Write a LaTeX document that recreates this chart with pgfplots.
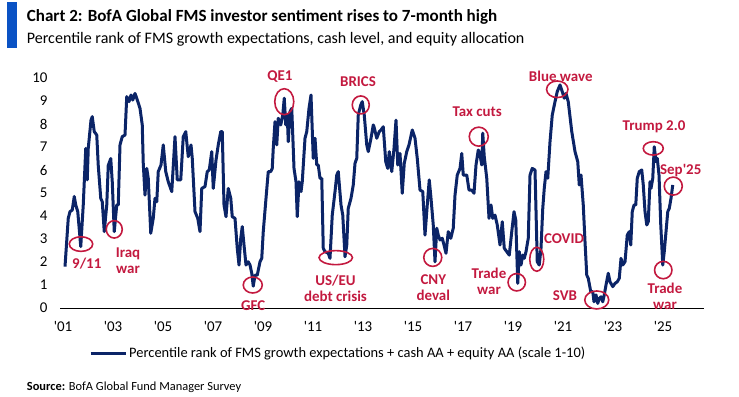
\documentclass[border=0pt]{standalone}
\usepackage{fontspec}
\setmainfont{Carlito}
\usepackage{pgfplots}
\pgfplotsset{compat=1.18}
\definecolor{navy}{HTML}{0B2467}
\definecolor{annred}{HTML}{C3193F}
\definecolor{barblue}{HTML}{0A52C4}
\newcommand{\q}{\textquotesingle}
\begin{document}
\begin{tikzpicture}[x=1bp,y=1bp]
\useasboundingbox (0,0) rectangle (739,-396);
\fill[barblue] (7.3,-1.7) rectangle (16.7,-48.3);
\node[anchor=base west,inner sep=0pt,font=\fontsize{17.1}{19}\selectfont\bfseries] at (26.7,-21.7) {Chart 2: BofA Global FMS investor sentiment rises to 7-month high};
\node[anchor=base west,inner sep=0pt,font=\fontsize{16.1}{18}\selectfont] at (26.7,-43.5) {Percentile rank of FMS growth expectations, cash level, and equity allocation};
\node[anchor=base west,inner sep=0pt,font=\fontsize{12.45}{14}\selectfont] at (26.7,-390.7) {\textbf{Source:} BofA Global Fund Manager Survey};
\begin{axis}[
  at={(60bp,-308bp)}, anchor=south west, scale only axis,
  width=644bp, height=230bp,
  xmin=2000.88, xmax=2026.64, ymin=0, ymax=10,
  clip=false,
  axis x line*=bottom, axis y line*=left,
  y axis line style={draw=none},
  x axis line style={black, line width=0.8bp},
  major tick length=0pt,
  xtick={2001,2003,2005,2007,2009,2011,2013,2015,2017,2019,2021,2023,2025},
  xticklabels={\q01,\q03,\q05,\q07,\q09,\q11,\q13,\q15,\q17,\q19,\q21,\q23,\q25},
  ytick={0,1,2,3,4,5,6,7,8,9,10},
  /pgf/number format/assume math mode=true,
  tick label style={font=\fontsize{15}{18}\selectfont, text=black},
  xticklabel style={yshift=-10bp},
  yticklabel style={xshift=-9bp},
  legend style={at={(0.432,-0.196)}, anchor=center, draw=none, fill=none,
    font=\fontsize{14.5}{17}\selectfont, inner sep=0pt,
    /tikz/every even column/.append style={column sep=0pt}},
  legend cell align=left,
  legend image code/.code={\draw[navy, line width=3bp] (0bp,0bp) -- (35bp,0bp);},
]
\addplot[navy, line width=3bp, line join=round] coordinates {
(2001.08,1.80)(2001.21,3.9)(2001.28,4.19)(2001.37,4.26)(2001.45,4.85)(2001.51,4.48)(2001.59,4.19)(2001.71,2.67)(2001.81,4.48)(2001.91,6.94)(2001.97,5.57)(2002.01,6.94)(2002.12,8.17)(2002.17,8.32)(2002.25,7.67)(2002.35,7.52)(2002.41,6.2)(2002.51,4.77)(2002.57,4.62)(2002.65,3.32)(2002.75,4.48)(2002.81,6.2)(2002.91,6.5)(2002.97,5.49)(2003.05,3.32)(2003.15,4.48)(2003.21,4.48)(2003.28,7.09)(2003.37,7.45)(2003.48,7.52)(2003.55,9.19)(2003.64,8.97)(2003.72,9.26)(2003.79,9.04)(2003.88,9.33)(2003.95,9.12)(2004.08,8.68)(2004.17,7.96)(2004.21,6.29)(2004.28,4.91)(2004.35,6.07)(2004.41,5.64)(2004.51,3.25)(2004.61,3.9)(2004.68,4.77)(2004.75,4.62)(2004.81,5.93)(2004.92,6.22)(2005.01,7.09)
(2005.11,5.93)(2005.21,5.49)(2005.35,5.06)(2005.48,7.45)(2005.57,5.57)(2005.71,5.57)(2005.81,7.45)(2005.91,7.67)(2006.01,6.58)(2006.12,7.09)(2006.17,6.51)(2006.28,4.19)(2006.39,3.9)(2006.48,3.32)(2006.55,5.2)(2006.68,5.28)(2006.77,5.93)(2006.85,6.0)(2006.95,6.8)(2007.01,5.2)(2007.12,6.43)(2007.21,7.09)(2007.31,7.67)(2007.37,7.67)(2007.44,4.48)(2007.52,3.97)(2007.61,5.2)(2007.71,4.77)(2007.77,3.97)(2007.88,3.9)(2007.97,2.6)(2008.04,1.87)(2008.11,3.03)(2008.17,3.54)(2008.24,2.74)(2008.32,1.87)(2008.41,2.01)(2008.48,1.87)(2008.55,1.51)(2008.61,0.95)(2008.68,1.43)(2008.77,1.43)(2008.88,2.01)(2008.95,2.16)(2009.01,3.32)(2009.12,4.77)(2009.21,5.93)
(2009.31,5.93)(2009.37,6.07)(2009.41,6.94)(2009.48,8.1)(2009.55,7.09)(2009.61,8.25)(2009.71,7.96)(2009.79,8.39)(2009.85,9.12)(2009.91,7.96)(2009.97,8.39)(2010.01,7.23)(2010.08,8.54)(2010.15,8.68)(2010.24,6.07)(2010.32,5.49)(2010.37,3.97)(2010.44,5.49)(2010.52,5.06)(2010.57,5.49)(2010.68,7.38)(2010.75,7.67)(2010.84,8.68)(2010.92,9.26)(2011.01,6.51)(2011.08,7.38)(2011.15,6.22)(2011.21,6.22)(2011.28,5.64)(2011.35,5.64)(2011.41,2.6)(2011.48,2.45)(2011.61,2.38)(2011.68,2.16)(2011.77,4.04)(2011.88,5.06)(2011.95,5.78)(2012.01,5.93)(2012.12,4.48)(2012.19,4.04)(2012.28,2.23)(2012.35,2.74)(2012.41,4.33)(2012.52,4.77)(2012.61,5.35)(2012.68,6.29)(2012.75,6.51)(2012.81,8.39)(2012.91,8.83)(2012.97,8.97)(2013.05,8.39)(2013.15,7.09)(2013.21,6.8)(2013.32,7.38)(2013.41,7.96)
(2013.44,7.88)(2013.55,7.38)(2013.65,7.67)(2013.72,7.74)(2013.81,7.88)(2013.91,6.36)(2013.99,6.07)(2014.05,6.8)(2014.15,5.93)(2014.24,6.94)(2014.32,8.17)(2014.39,6.22)(2014.48,6.72)(2014.57,4.99)(2014.65,6.29)(2014.75,6.8)(2014.84,7.09)(2014.97,7.74)(2015.08,7.38)(2015.17,6.51)(2015.28,5.13)(2015.39,5.06)(2015.48,3.17)(2015.57,4.48)(2015.65,5.57)(2015.72,4.77)(2015.81,3.61)(2015.88,2.01)(2015.95,3.47)(2016.01,3.17)(2016.08,2.96)(2016.17,3.03)(2016.24,2.74)(2016.32,2.38)(2016.41,3.32)(2016.51,3.03)(2016.61,3.47)(2016.68,4.91)(2016.77,5.78)(2016.88,6.07)(2016.95,6.72)(2017.01,5.78)(2017.15,5.78)(2017.24,5.13)(2017.35,5.13)(2017.44,4.99)(2017.52,6.22)(2017.61,6.87)
(2017.68,6.65)(2017.75,6.22)(2017.79,7.6)(2017.85,6.58)(2017.95,5.64)(2018.04,3.9)(2018.12,4.48)(2018.19,3.9)(2018.28,4.04)(2018.37,3.61)(2018.48,2.74)(2018.57,3.75)(2018.65,2.6)(2018.75,2.45)(2018.85,2.3)(2018.95,3.32)(2019.04,4.19)(2019.11,3.83)(2019.19,1.07)(2019.25,2.45)(2019.32,1.87)(2019.39,2.3)(2019.45,2.16)(2019.52,2.45)(2019.61,3.03)(2019.68,5.78)(2019.77,6.07)(2019.88,6.0)(2019.97,2.01)(2020.05,1.87)(2020.12,2.6)(2020.19,4.33)(2020.25,5.2)(2020.32,5.93)(2020.39,5.64)(2020.48,7.23)(2020.57,8.39)(2020.68,8.97)(2020.77,9.41)(2020.88,9.7)(2020.97,9.41)(2021.05,9.12)(2021.12,9.33)(2021.21,8.97)(2021.35,7.67)(2021.48,6.8)(2021.59,6.36)(2021.65,5.35)(2021.72,5.78)(2021.81,4.48)
(2021.88,2.88)(2021.95,1.43)(2022.01,1.29)(2022.11,0.71)(2022.19,0.71)(2022.24,0.27)(2022.32,0.57)(2022.39,0.2)(2022.45,0.42)(2022.52,0.49)(2022.59,0.27)(2022.65,0.57)(2022.72,1.0)(2022.81,1.51)(2022.88,1.14)(2022.99,0.93)(2023.08,1.07)(2023.17,1.14)(2023.25,1.29)(2023.32,2.16)(2023.39,1.87)(2023.48,2.01)(2023.57,3.17)(2023.65,3.32)(2023.71,2.74)(2023.77,4.19)(2023.84,4.48)(2023.91,4.48)(2023.97,5.64)(2024.05,5.93)(2024.15,6.0)(2024.21,5.35)(2024.28,4.19)(2024.35,3.61)(2024.41,3.75)(2024.48,5.49)(2024.52,5.2)(2024.59,5.64)(2024.65,7.01)(2024.72,6.36)(2024.77,6.51)(2024.84,5.78)(2024.91,3.61)(2024.99,1.87)(2025.05,2.45)(2025.12,3.32)(2025.19,4.19)(2025.25,4.33)(2025.32,4.77)(2025.39,5.35)
};
\addlegendentry{Percentile rank of FMS growth expectations + cash AA + equity AA (scale 1-10)}
\begin{scope}[annred, line width=1.6bp]
\draw (axis cs:2001.72,2.78) ellipse [x radius=11.7bp, y radius=7.3bp];
\draw (axis cs:2003.05,3.42) ellipse [x radius=8bp, y radius=8.7bp];
\draw (axis cs:2008.59,1.0) ellipse [x radius=9.5bp, y radius=8bp];
\draw (axis cs:2009.85,8.97) ellipse [x radius=9.5bp, y radius=13bp];
\draw (axis cs:2012.91,8.83) ellipse [x radius=8.5bp, y radius=9bp];
\draw (axis cs:2011.91,2.19) ellipse [x radius=16.7bp, y radius=7bp];
\draw (axis cs:2015.79,2.2) ellipse [x radius=9bp, y radius=9bp];
\draw (axis cs:2017.63,7.45) ellipse [x radius=9.5bp, y radius=9.5bp];
\draw (axis cs:2019.15,1.12) ellipse [x radius=8.7bp, y radius=8.7bp];
\draw (axis cs:2019.95,2.12) ellipse [x radius=7bp, y radius=12bp];
\draw (axis cs:2020.77,9.51) ellipse [x radius=10.7bp, y radius=8.3bp];
\draw (axis cs:2022.35,0.35) ellipse [x radius=12bp, y radius=9bp];
\draw (axis cs:2024.61,6.94) ellipse [x radius=10bp, y radius=6.7bp];
\draw (axis cs:2025.41,5.3) ellipse [x radius=9bp, y radius=9bp];
\draw (axis cs:2025.01,1.65) ellipse [x radius=8.7bp, y radius=8.7bp];
\end{scope}
\begin{scope}[every node/.style={text=annred, font=\fontsize{15}{16}\selectfont\bfseries, align=center, inner sep=0pt}]
\node at (axis cs:2001.95,1.91) {9/11};
\node at (axis cs:2003.6,2.04) {Iraq\\war};
\node at (axis cs:2008.61,0.09) {GFC};
\node at (axis cs:2009.68,10.06) {QE1};
\node at (axis cs:2012.8,9.83) {BRICS};
\node at (axis cs:2011.9,0.86) {US/EU\\debt crisis};
\node at (axis cs:2015.81,0.9) {CNY\\deval};
\node at (axis cs:2017.57,8.53) {Tax cuts};
\node at (axis cs:2018.04,1.17) {Trade\\war};
\node at (axis cs:2021.04,3.0) {COVID};
\node at (axis cs:2020.91,10.06) {Blue wave};
\node at (axis cs:2021.08,0.55) {SVB};
\node at (axis cs:2024.64,7.86) {Trump 2.0};
\node at (axis cs:2025.71,5.96) {Sep\q25};
\node at (axis cs:2025.08,0.52) {Trade\\war};
\end{scope}
\end{axis}
\end{tikzpicture}
\end{document}
